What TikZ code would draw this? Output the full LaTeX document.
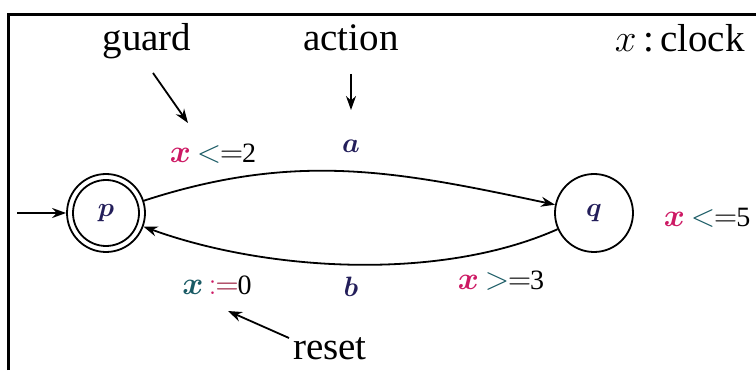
\RequirePackage{fix-cm}
\documentclass[tikz,border=0pt]{standalone}
\usepackage[no-math]{fontspec}
\setmainfont{Liberation Serif}
\usepackage{bm}
\usetikzlibrary{arrows.meta}
\definecolor{mag}{RGB}{205,25,100}
\definecolor{tl}{RGB}{25,90,100}
\definecolor{crim}{RGB}{150,20,55}
\definecolor{navy}{RGB}{35,30,90}
\newcommand{\mth}[2]{{\fontsize{32}{34}\selectfont\textcolor{#1}{$#2$}}}
\begin{document}
\begin{tikzpicture}[x=1pt,y=1pt,
  state/.style={circle,draw,line width=1.8pt,minimum size=78pt,inner sep=0pt,
    font=\fontsize{27}{29}\selectfont,text=navy},
  arr/.style={line width=1.8pt,-{Stealth[length=14pt,width=10pt]}},
  big/.style={font=\fontsize{39}{42}\selectfont,inner sep=0pt,anchor=base},
  lab/.style={font=\fontsize{28}{30}\selectfont,inner sep=0pt,anchor=base}]
\useasboundingbox (0,0) rectangle (756,370);
\draw[line width=3pt] (8.5,0) -- (8.5,355.5) -- (757,355.5);

% states
\node[state] (p) at (106,157) {$\bm{p}$};
\draw[line width=1.8pt] (p.center) circle (33);
\node[state] (q) at (594,157) {$\bm{q}$};
\coordinate (init) at (17,157);
\draw[arr] (init) -- (p);

% transitions
\draw[arr] (p) to[out=18,in=168] (q);
\draw[arr] (q) to[out=204,in=340,looseness=0.8] (p);

% labels
\node[big] (guard) at (147,319) {guard};
\node[big] (action) at (351,319) {action};
\node[big,anchor=base east] (clock) at (745,318) {$x$\,:\,clock};
\node[big] (reset) at (330,10) {reset};

\node[lab] (g1) at (213,207) {\mth{mag}{\bm{x}}\hspace{6pt}\mth{tl}{<}\hspace{-1pt}\mth{black}{=}\hspace{-1pt}2};
\node[lab,text=navy] (la) at (351,217) {$\bm{a}$};
\node[lab,text=navy] (lb) at (351,73) {$\bm{b}$};
\node[lab] (r1) at (217,75) {\mth{tl}{\bm{x}}\hspace{5pt}\mth{mag}{:}\hspace{-1pt}\mth{crim}{=}\hspace{-1pt}0};
\node[lab] (g2) at (501,81) {\mth{mag}{\bm{x}}\hspace{6pt}\mth{tl}{>}\hspace{-1pt}\mth{black}{=}\hspace{-1pt}3};
\node[lab] (inv) at (707,143) {\mth{mag}{\bm{x}}\hspace{6pt}\mth{tl}{<}\hspace{-1pt}\mth{black}{=}\hspace{-1pt}5};

% annotation arrows
\coordinate (ga) at (153,297);
\coordinate (gb) at (188,247);
\coordinate (aa) at (351,296);
\coordinate (ab) at (351,260);
\coordinate (ra) at (289,32);
\coordinate (rb) at (228,59);
\draw[arr] (ga) -- (gb);
\draw[arr] (aa) -- (ab);
\draw[arr] (ra) -- (rb);
\end{tikzpicture}
\end{document}
